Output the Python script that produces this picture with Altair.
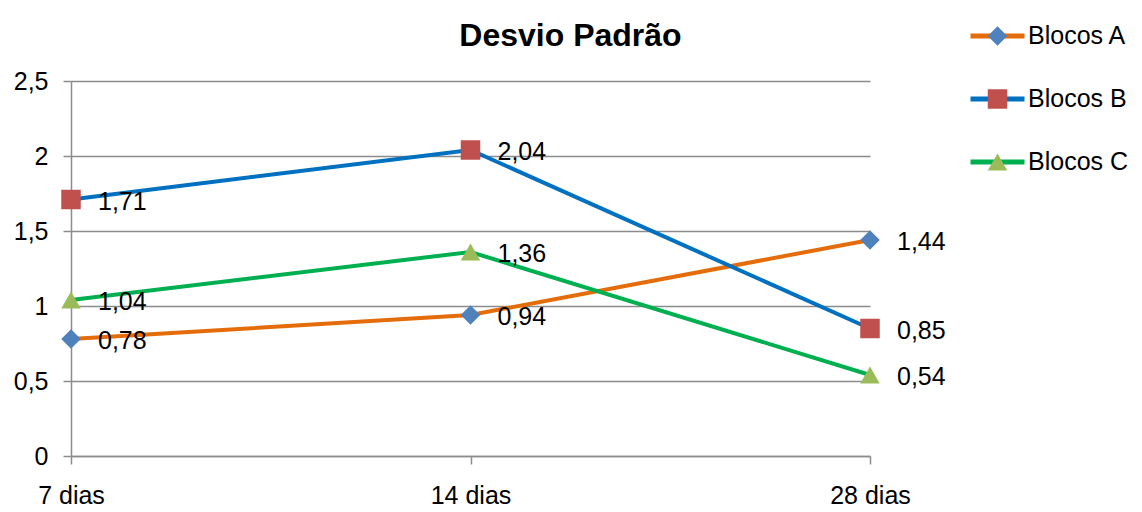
import altair as alt
import pandas as pd

dias = ["7 dias", "14 dias", "28 dias"]
series = ["Blocos A", "Blocos B", "Blocos C"]
blocos_a = [0.78, 0.94, 1.44]
blocos_b = [1.71, 2.04, 0.85]
blocos_c = [1.04, 1.36, 0.54]
y_ticks = [0, 0.5, 1, 1.5, 2, 2.5]

line_colors = ["#E46C0A", "#0070C0", "#00B050"]
marker_colors = ["#4F81BD", "#C0504D", "#9BBB59"]
marker_shapes = ["diamond", "square", "triangle-up"]

rows = []
for s, vals in zip(series, [blocos_a, blocos_b, blocos_c]):
    for d, v in zip(dias, vals):
        rows.append({"dia": d, "valor": v, "serie": s, "marcador": s,
                     "rotulo": f"{v:.2f}".replace(".", ",")})
df = pd.DataFrame(rows)

FONT = "Liberation Sans"
GRID = "#8c8c8c"
FS = 25

x = alt.X("dia:N", sort=dias, title=None,
          scale=alt.Scale(type="point", padding=0),
          axis=alt.Axis(labelAngle=0, labelFontSize=FS, labelFont=FONT, labelColor="#000",
                        tickSize=8, tickColor=GRID, tickWidth=1.5, domainColor=GRID,
                        domainWidth=1.5, labelPadding=19, grid=False))
y = alt.Y("valor:Q", title=None, scale=alt.Scale(domain=[0, 2.5]),
          axis=alt.Axis(values=y_ticks, format="~g", labelFontSize=FS, labelFont=FONT,
                        labelColor="#000",
                        labelExpr="replace(datum.label, '.', ',')",
                        tickSize=8, tickColor=GRID, tickWidth=1.5, domainColor=GRID,
                        domainWidth=1.5, labelPadding=15, grid=True, gridColor=GRID,
                        gridWidth=1.5))

base = alt.Chart(df)

lines = base.mark_line(strokeWidth=4).encode(
    x=x, y=y,
    color=alt.Color("serie:N", scale=alt.Scale(domain=series, range=line_colors),
                    legend=alt.Legend(orient="none", legendX=897, legendY=-59, title=None,
                                      symbolType="stroke", symbolSize=2916,
                                      symbolStrokeWidth=5, labelFontSize=FS, labelFont=FONT,
                                      labelColor="#000", labelOffset=1, clipHeight=28,
                                      rowPadding=35, padding=0)),
    detail="serie:N",
)

marker_legend = alt.Legend(orient="none", legendX=914, legendY=-59, title=None,
                           symbolSize=380, symbolStrokeWidth=0, labelExpr="''",
                           labelOpacity=0, labelFontSize=FS, clipHeight=28,
                           rowPadding=35, padding=0)

points = base.mark_point(filled=True, size=380, opacity=1).encode(
    x=x, y=y,
    shape=alt.Shape("marcador:N", scale=alt.Scale(domain=series, range=marker_shapes),
                    legend=marker_legend),
    fill=alt.Fill("marcador:N", scale=alt.Scale(domain=series, range=marker_colors),
                  legend=marker_legend),
)

labels = base.mark_text(align="left", baseline="middle", dx=27, dy=2, fontSize=FS,
                        font=FONT, color="#000").encode(x=x, y=y, text="rotulo:N")

chart = alt.layer(lines, points, labels).resolve_scale(
    color="independent", shape="independent", fill="independent"
).properties(
    width=799, height=375,
    title=alt.TitleParams("Desvio Padrão", fontSize=32, font=FONT, fontWeight="bold",
                          anchor="middle", baseline="alphabetic", dx=100, dy=60,
                          color="#000"),
    autosize=alt.AutoSizeParams(type="none"),
    padding={"left": 63, "top": 73, "right": 264, "bottom": 52},
).configure_view(stroke=None)

chart.save("out.html", embed_options={"renderer": "svg", "actions": False})
